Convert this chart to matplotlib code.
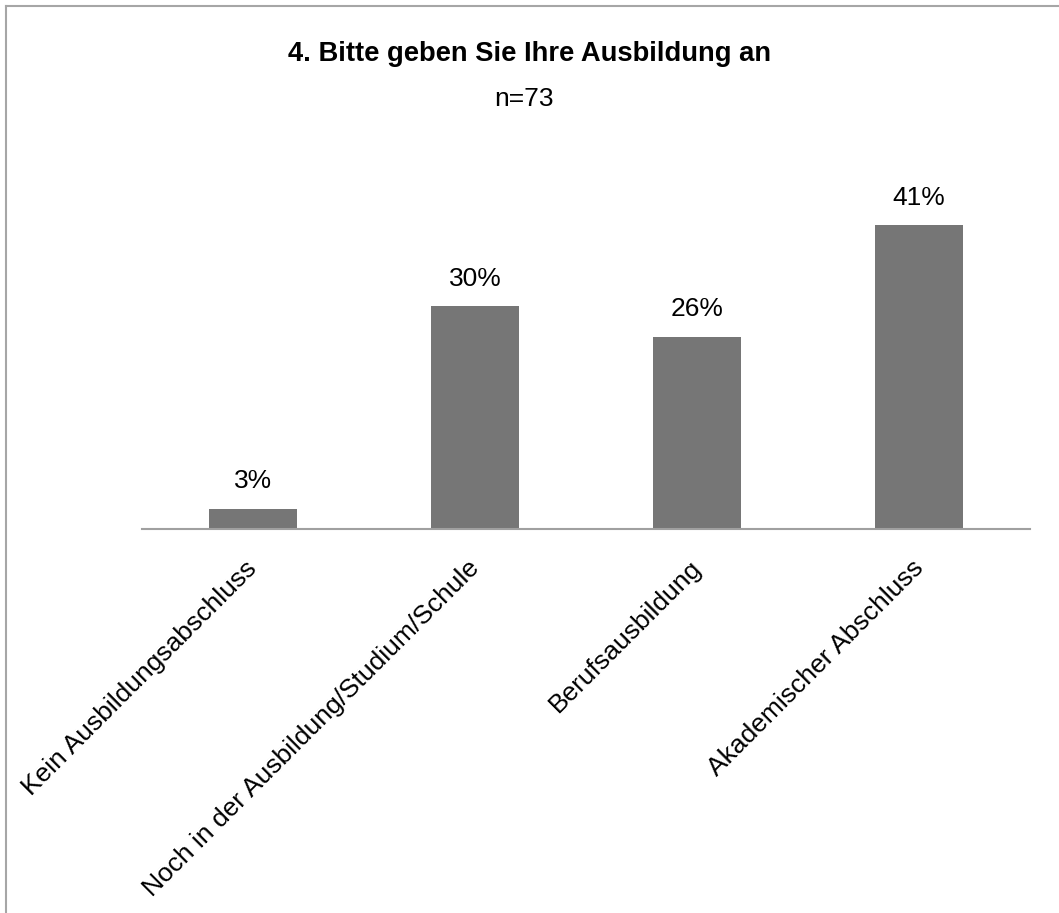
import matplotlib.pyplot as plt
import matplotlib.transforms as mtransforms
from matplotlib.lines import Line2D

# ==== Daten ====
kategorien = [
    "Kein Ausbildungsabschluss",
    "Noch in der Ausbildung/Studium/Schule",
    "Berufsausbildung",
    "Akademischer Abschluss",
]
anteile = [2.74, 30.14, 26.03, 41.10]  # Prozent, n=73
titel = "4. Bitte geben Sie Ihre Ausbildung an"
untertitel = "n=73"

plt.rcParams["font.family"] = ["Liberation Sans", "DejaVu Sans"]

fig = plt.figure(figsize=(10.59, 9.13), dpi=100)
ax = fig.add_axes([0.134, 0.4206, 0.8386, 0.364])

x = list(range(len(kategorien)))
ax.bar(x, anteile, width=0.4, color="#767676")

for xi, v in zip(x, anteile):
    ax.annotate(f"{v:.0f}%", (xi, v), xytext=(0, 11), textcoords="offset points",
                ha="center", va="bottom", fontsize=19)

ax.set_xlim(-0.5, len(kategorien) - 0.5)
ax.set_ylim(0, 45)
ax.set_xticks([])
ax.set_yticks([])

# Kategorienbeschriftungen, 45° gedreht
trans = ax.get_xaxis_transform() + mtransforms.ScaledTranslation(-8 / 100, -27 / 100, fig.dpi_scale_trans)
for xi, name in zip(x, kategorien):
    ax.text(xi, 0, name, transform=trans, rotation=45, ha="right", va="top",
            rotation_mode="anchor", fontsize=19)

for s in ["top", "right", "left"]:
    ax.spines[s].set_visible(False)
ax.spines["bottom"].set_color("#a0a0a0")
ax.spines["bottom"].set_linewidth(1.5)

fig.text(0.5, 0.941, titel, ha="center", va="center", fontsize=19.75, fontweight="bold")
fig.text(0.495, 0.892, untertitel, ha="center", va="center", fontsize=19)

# Rahmen (oben und links sichtbar)
fig.add_artist(Line2D([6 / 1059, 1], [1 - 6 / 913, 1 - 6 / 913], color="#a6a6a6", lw=1.5))
fig.add_artist(Line2D([6 / 1059, 6 / 1059], [0, 1 - 6 / 913], color="#a6a6a6", lw=1.5))

fig.savefig("out.png", dpi=100)
